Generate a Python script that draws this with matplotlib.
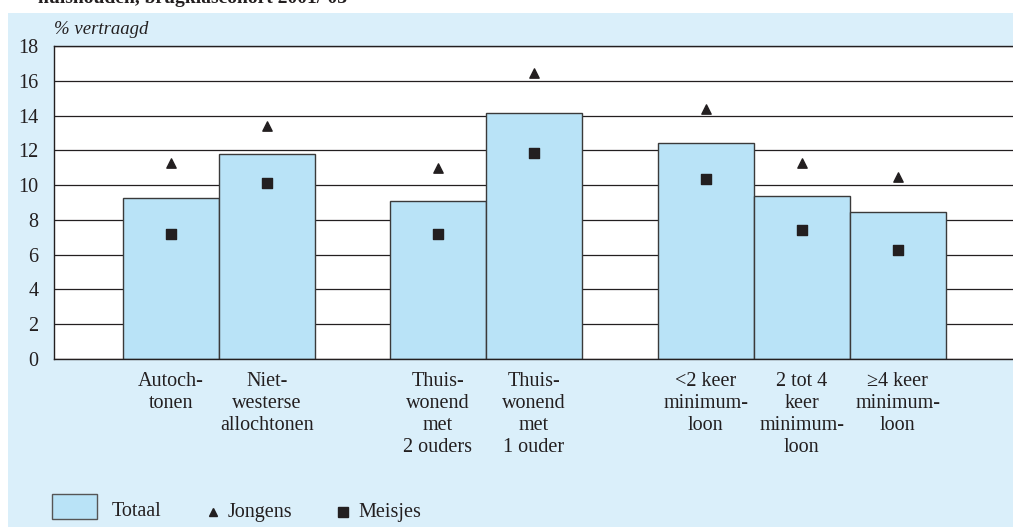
import numpy as np
import matplotlib.pyplot as plt
from matplotlib.patches import Rectangle
from matplotlib.lines import Line2D

plt.rcParams['font.family'] = ['Liberation Serif', 'DejaVu Serif']

# Data: % vertraagd per groep
labels = ["Autoch-\ntonen", "Niet-\nwesterse\nallochtonen",
          "Thuis-\nwonend\nmet\n2 ouders", "Thuis-\nwonend\nmet\n1 ouder",
          "<2 keer\nminimum-\nloon", "2 tot 4\nkeer\nminimum-\nloon", "≥4 keer\nminimum-\nloon"]
totaal = [9.25, 11.8, 9.1, 14.15, 12.4, 9.35, 8.45]
jongens = [11.25, 13.4, 11.0, 16.45, 14.4, 11.25, 10.45]
meisjes = [7.2, 10.1, 7.2, 11.85, 10.35, 7.4, 6.25]
xpos = [0, 1, 2.78, 3.78, 5.57, 6.57, 7.57]

W, H = 1013, 528
fig = plt.figure(figsize=(W / 100, H / 100), dpi=100)
fig.patch.set_facecolor('white')

# lichtblauw paneel
fig.add_artist(Rectangle((8 / W, 1 / H), 1 - 8 / W, (527 - 13) / H,
                         transform=fig.transFigure, facecolor='#daeffa',
                         edgecolor='none', zorder=0))

# afgesneden kop
fig.text(38 / W, 1 - 3 / H, "huishouden, brugklascohort 2001/'03", fontsize=14,
         fontweight='bold', color='#231f20', va='baseline', ha='left')

ax = fig.add_axes([54 / W, (528 - 359) / H, (1013 - 54) / W, (359 - 46) / H])
ax.set_facecolor('white')

ax.bar(xpos, totaal, width=1.0, color='#b9e3f7', edgecolor='#3a3a3a',
       linewidth=1.0, zorder=2)
ax.scatter(xpos, jongens, marker='^', s=45, color='#231f20', zorder=3)
ax.scatter(xpos, meisjes, marker='s', s=55, color='#231f20', zorder=3)

ax.set_ylim(0, 18)
ax.set_xlim(-1.22, 8.77)
ax.set_yticks(range(0, 19, 2))
ax.yaxis.grid(True, color='#231f20', linewidth=0.9)
ax.set_axisbelow(True)
ax.tick_params(axis='y', length=0, labelsize=14.5, pad=11, labelcolor='#231f20')
ax.set_xticks(xpos)
ax.set_xticklabels(labels, fontsize=14.5, linespacing=1.22, color='#231f20', va='top')
ax.tick_params(axis='x', length=0, pad=9)
for s in ['left', 'bottom', 'top']:
    ax.spines[s].set_color('#231f20')
    ax.spines[s].set_linewidth(1.0)
ax.spines['right'].set_visible(False)

ax.text(0, 1.025, "% vertraagd", transform=ax.transAxes, fontsize=13.5,
        fontstyle='italic', color='#231f20', va='bottom', ha='left')

# legenda
ly = 1 - 512 / H
fig.add_artist(Rectangle((52 / W, 1 - 519 / H), 45 / W, 25 / H,
                         transform=fig.transFigure, facecolor='#b9e3f7',
                         edgecolor='#555555', linewidth=1.0))
fig.text(112 / W, ly, "Totaal", fontsize=14.5, va='center', color='#231f20')
fig.add_artist(Line2D([213 / W], [ly], marker='^', markersize=6, color='#231f20',
                      linestyle='none', transform=fig.transFigure))
fig.text(228 / W, ly, "Jongens", fontsize=14.5, va='center', color='#231f20')
fig.add_artist(Line2D([343 / W], [ly], marker='s', markersize=7, color='#231f20',
                      linestyle='none', transform=fig.transFigure))
fig.text(358 / W, ly, "Meisjes", fontsize=14.5, va='center', color='#231f20')

plt.savefig("out.png", dpi=100, facecolor=fig.get_facecolor())
